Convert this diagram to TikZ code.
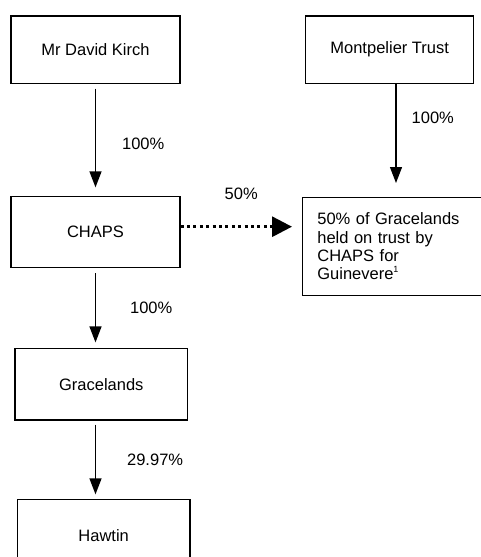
\documentclass[tikz,border=0pt]{standalone}
\usepackage{fontspec}
\setmainfont{Liberation Sans}
\usetikzlibrary{calc,positioning,arrows.meta}

\begin{document}
\begin{tikzpicture}[x=1pt, y=-1pt,
  entity/.style={draw, line width=1.3pt, align=center,
    font=\fontsize{16.5}{18.3}\selectfont, text=black},
  pct/.style={inner sep=0pt, font=\fontsize{16.5}{18.3}\selectfont},
  arr/.style={-{Triangle[length=16pt, width=12pt]}, line width=1.3pt},
  trust/.style={-{Triangle[length=20pt, width=20pt]}, line width=3pt,
    dash pattern=on 3pt off 3.4pt}
]
  \clip (0,0) rectangle (481,557);

  \node[entity, minimum width=169pt, minimum height=67.5pt] (kirch) at (95.5,49.7) {Mr David Kirch};
  \node[entity, minimum width=168pt, minimum height=67.5pt] (montpelier) at (389.7,49.7) {Montpelier Trust};
  \node[entity, minimum width=169pt, minimum height=71pt] (chaps) at (95.5,232.2) {CHAPS};
  \node[entity, anchor=north west, minimum width=205pt, minimum height=98.3pt,
    text width=175pt, inner xsep=15pt, align=left] (guin) at (301.7,196.7)
    {50\% of Gracelands\\held on trust by\\CHAPS for\\Guinevere\raisebox{7pt}{\fontsize{9}{9}\selectfont 1}};
  \node[entity, minimum width=172.7pt, minimum height=71.7pt] (gracelands) at (101.3,384.2) {Gracelands};
  \node[entity, minimum width=172.7pt, minimum height=72pt] (hawtin) at (103.7,535.3) {Hawtin};

  % ownership
  \draw[arr, shorten <=4.5pt, shorten >=8.7pt] (kirch.south) -- node[pct, pos=0.53, right=26pt] {100\%} (kirch.south |- chaps.north);
  \draw[arr, shorten >=13.7pt] ($(montpelier.south)+(6.3,0)$) -- node[pct, pos=0.3, right=15pt] {100\%} ($(montpelier.south |- guin.north)+(6.3,0)$);
  \draw[arr, shorten <=5pt, shorten >=5.3pt] (chaps.south) -- node[pct, midway, right=34pt] {100\%} (chaps.south |- gracelands.north);
  \draw[arr, shorten <=4pt, shorten >=4.3pt] (chaps.south |- gracelands.south) -- node[pct, midway, right=31pt] {29.97\%} (chaps.south |- hawtin.north);

  % held on trust
  \draw[trust, shorten >=9.7pt] ($(chaps.east)+(0,-5.5)$) -- node[pct, pos=0.5, above=26pt] {50\%} ($(chaps.east -| guin.west)+(0,-5.5)$);
\end{tikzpicture}
\end{document}
